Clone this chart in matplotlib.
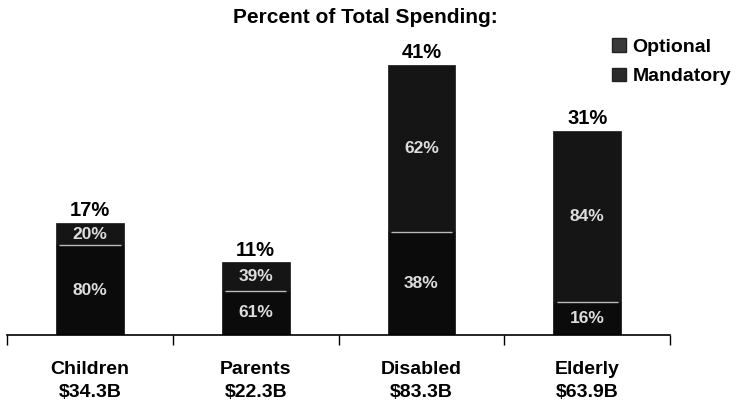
import numpy as np
import matplotlib
matplotlib.use('Agg')
import matplotlib.pyplot as plt
from matplotlib.patches import Patch

groups = ['Children', 'Parents', 'Disabled', 'Elderly']
spending = ['$34.3B', '$22.3B', '$83.3B', '$63.9B']
total_pct = [17, 11, 41, 31]
optional_share = [20, 39, 62, 84]
mandatory_share = [80, 61, 38, 16]

plt.rcParams['font.family'] = ['Liberation Sans', 'DejaVu Sans']
plt.rcParams['font.weight'] = 'bold'

fig = plt.figure(figsize=(7.46, 4.08), dpi=100)
ax = fig.add_axes([0.0094, 0.179, 0.889, 0.808])

x = np.arange(len(groups))
total = np.array(total_pct, dtype=float)
mand = total * np.array(mandatory_share) / 100
opt = total * np.array(optional_share) / 100

w = 0.41
ax.bar(x, mand, w, color='#0b0b0b', edgecolor='#0b0b0b', lw=0.5)
ax.bar(x, opt, w, bottom=mand, color='#151515', edgecolor='#151515', lw=0.5)
# pale divider between the two parts
ax.hlines(mand, x - w/2 + 0.02, x + w/2 - 0.02, colors='#bbbbbb', lw=1)

for i in range(len(groups)):
    ax.text(x[i], mand[i]/2, '%d%%' % mandatory_share[i], ha='center', va='center',
            color='#dddddd', fontsize=12.5)
    ax.text(x[i], mand[i] + opt[i]/2, '%d%%' % optional_share[i], ha='center', va='center',
            color='#dddddd', fontsize=12.5)
    ax.annotate('%d%%' % total_pct[i], (x[i], total[i]), xytext=(0, 2),
                textcoords='offset points', ha='center', va='bottom', fontsize=14.5)

ax.set_xlim(-0.5, 3.5)
ax.set_ylim(0, 50)
for s in ['top', 'right', 'left']:
    ax.spines[s].set_visible(False)
ax.spines['bottom'].set_linewidth(1.2)
ax.set_yticks([])
ax.set_xticks(x)
ax.set_xticklabels(['%s\n\\%s' % (g, s) for g, s in zip(groups, spending)],
                   fontsize=14, fontweight='bold', linespacing=1.45)
ax.tick_params(axis='x', which='major', length=0, pad=19)
ax.set_xticks(np.arange(-0.5, 4, 1), minor=True)
ax.tick_params(axis='x', which='minor', length=7, width=1, direction='out')

fig.text(0.49, 0.958, 'Percent of Total Spending:', ha='center', va='center',
         fontsize=15, fontweight='bold')

handles = [Patch(facecolor='#3a3a3a', edgecolor='#222222', label='Optional'),
           Patch(facecolor='#2a2a2a', edgecolor='#222222', label='Mandatory')]
fig.legend(handles=handles, loc='upper left', bbox_to_anchor=(0.81, 0.925),
           frameon=False, fontsize=14, handlelength=0.7, handleheight=0.7,
           handletextpad=0.35, labelspacing=0.6, borderaxespad=0)

fig.savefig('out.png', dpi=100)
